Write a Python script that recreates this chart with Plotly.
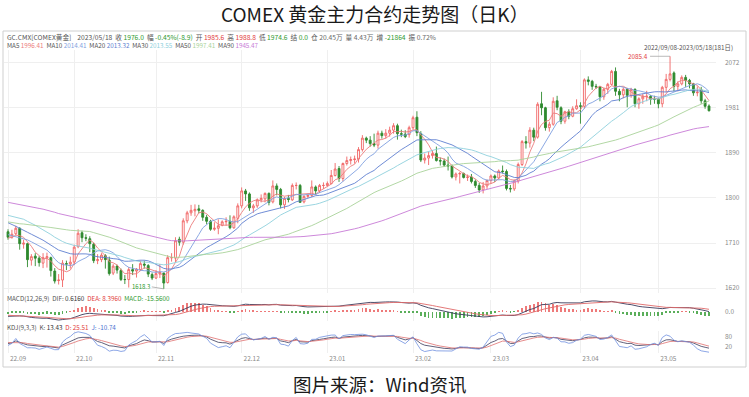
import numpy as np
import pandas as pd
import plotly.graph_objects as go
from plotly.subplots import make_subplots

# ---------------- data ----------------
# closes before the displayed window (2022-05-06 .. 2022-09-07), used only for MA / MACD warm-up
prior_close = [
    1882, 1858, 1841, 1853, 1824, 1808, 1814, 1818, 1815, 1841, 1842, 1853, 1866, 1846, 1851, 1853, 1857, 1848,
    1868, 1871, 1850, 1844, 1852, 1855, 1853, 1875, 1832, 1813, 1835, 1851, 1840, 1838, 1834, 1838, 1825, 1830,
    1824, 1821, 1818, 1807,
    1801, 1803, 1763, 1736, 1739, 1742, 1731, 1725, 1735, 1705, 1703, 1709, 1711, 1697, 1718, 1727, 1719, 1717,
    1735, 1750, 1781,
    1787, 1776, 1776, 1806, 1791, 1805, 1812, 1813, 1807, 1815, 1798, 1789, 1776, 1771, 1762, 1748, 1761, 1761,
    1771, 1750, 1749, 1736, 1726,
    1709, 1721, 1718, 1714, 1727,
]

dates = pd.bdate_range("2022-09-08", "2023-05-18").strftime("%Y-%m-%d").tolist()

open_ = [
    # 2022-09
    1733, 1722, 1729, 1740, 1708, 1709, 1676, 1684, 1680, 1670, 1680, 1681, 1654, 1635, 1636, 1669, 1668,
    # 2022-10
    1672, 1703, 1731, 1721, 1719, 1708, 1675, 1677, 1685, 1676, 1650, 1664, 1655, 1637, 1637, 1657, 1654, 1657,
    1668, 1665, 1647,
    # 2022-11
    1640, 1648, 1650, 1631, 1681, 1680, 1718, 1712, 1755, 1771, 1775, 1779, 1776, 1762, 1754, 1738, 1740, 1746,
    1753, 1754, 1741, 1760,
    # 2022-12
    1785, 1815, 1809, 1781, 1785, 1797, 1799, 1810, 1793, 1825, 1818, 1787, 1800, 1797, 1826, 1826, 1793, 1804,
    1806, 1823, 1815, 1826,
    # 2023-01
    1826, 1830, 1846, 1860, 1840, 1870, 1876, 1878, 1879, 1898, 1921, 1917, 1910, 1907, 1931, 1926, 1931, 1937,
    1946, 1930, 1929, 1928,
    # 2023-02
    1942, 1963, 1930, 1877, 1881, 1886, 1890, 1876, 1875, 1867, 1865, 1843, 1849, 1850, 1842, 1843, 1834, 1826,
    1817, 1825,
    # 2023-03
    1836, 1845, 1841, 1855, 1854, 1820, 1819, 1835, 1868, 1914, 1911, 1937, 1923, 1990, 1982, 1942, 1949, 1996,
    1982, 1955, 1974, 1965, 1980,
    # 2023-04
    1986, 1985, 2038, 2035, 2025, 2024, 2004, 2019, 2029, 2055, 2015, 2008, 2019, 2007, 2019, 1990, 2000, 2005,
    2005, 1999,
    # 2023-05
    1999, 1990, 2023, 2039, 2052, 2025, 2030, 2043, 2037, 2030, 2012, 2018, 1996, 1985.6,
]

high = [
    1738, 1737, 1745, 1742, 1717, 1711, 1688, 1690, 1684, 1690, 1691, 1683, 1660, 1648, 1676, 1675, 1683,
    1707, 1738, 1735, 1728, 1724, 1711, 1688, 1690, 1688, 1683, 1668, 1667, 1659, 1646, 1662, 1668, 1660, 1675,
    1675, 1668, 1651,
    1656, 1668, 1651, 1686, 1690, 1722, 1723, 1760, 1775, 1787, 1788, 1787, 1778, 1767, 1757, 1752, 1758, 1756,
    1762, 1766, 1766, 1790,
    1822, 1819, 1812, 1789, 1800, 1808, 1812, 1812, 1836, 1830, 1821, 1803, 1807, 1830, 1832, 1829, 1806, 1808,
    1836, 1826, 1829, 1832,
    1834, 1857, 1871, 1865, 1872, 1884, 1884, 1886, 1903, 1927, 1924, 1925, 1930, 1936, 1936, 1939, 1944, 1951,
    1950, 1938, 1937, 1946,
    1966, 1975, 1935, 1890, 1893, 1897, 1904, 1882, 1880, 1884, 1868, 1852, 1853, 1852, 1848, 1849, 1838, 1831,
    1833, 1838,
    1848, 1848, 1858, 1866, 1858, 1827, 1838, 1872, 1917, 1925, 1943, 1942, 1993, 2014, 1984, 1954, 2003, 2006,
    1985, 1976, 1979, 1985, 1999,
    1993, 2041, 2045, 2038, 2030, 2026, 2022, 2032, 2058, 2063, 2020, 2023, 2022, 2022, 2021, 2003, 2010, 2016,
    2008, 2006,
    2002, 2026, 2050, 2085.4, 2055, 2035, 2047, 2048, 2040, 2032, 2025, 2024, 2000, 1988.8,
]

low = [
    1717, 1719, 1726, 1697, 1699, 1662, 1665, 1664, 1663, 1660, 1661, 1643, 1629, 1627, 1622, 1656, 1659,
    1666, 1700, 1712, 1714, 1692, 1670, 1668, 1672, 1659, 1645, 1646, 1649, 1634, 1628, 1621, 1646, 1641, 1655,
    1659, 1642, 1636,
    1638, 1640, 1618.3, 1629, 1673, 1672, 1705, 1707, 1750, 1765, 1764, 1770, 1755, 1748, 1735, 1735, 1728, 1744,
    1745, 1738, 1739, 1750,
    1780, 1795, 1775, 1771, 1781, 1792, 1792, 1786, 1790, 1806, 1780, 1779, 1792, 1795, 1818, 1793, 1790, 1801,
    1803, 1807, 1811, 1819,
    1824, 1828, 1844, 1833, 1834, 1866, 1868, 1870, 1872, 1894, 1911, 1904, 1903, 1900, 1920, 1920, 1924, 1930,
    1918, 1923, 1921, 1922,
    1938, 1925, 1873, 1870, 1867, 1880, 1874, 1866, 1863, 1856, 1840, 1836, 1830, 1840, 1835, 1830, 1821, 1811,
    1810, 1819,
    1829, 1833, 1838, 1850, 1816, 1812, 1815, 1830, 1865, 1900, 1902, 1915, 1920, 1967, 1936, 1934, 1946, 1977,
    1949, 1950, 1959, 1963, 1978,
    1950, 1980, 2027, 2018, 2020, 1995, 1998, 2010, 2027, 2006, 1995, 2001, 1983, 2002, 1983, 1980, 1990, 1995,
    1988, 1990,
    1981, 1983, 2013, 2035, 2015, 2015, 2027, 2024, 2021, 2006, 2005, 1990, 1980, 1974.6,
]

close = [
    1722, 1728, 1740, 1709, 1710, 1677, 1683, 1680, 1671, 1681, 1683, 1655, 1634, 1636, 1670, 1668, 1672,
    1702, 1730, 1721, 1720, 1709, 1675, 1677, 1686, 1677, 1649, 1664, 1656, 1637, 1637, 1657, 1654, 1658, 1669,
    1666, 1648, 1640,
    1649, 1651, 1630, 1681, 1681, 1715, 1712, 1755, 1771, 1776, 1778, 1776, 1762, 1754, 1738, 1740, 1745, 1753,
    1754, 1741, 1763, 1785,
    1815, 1809, 1781, 1785, 1797, 1800, 1810, 1792, 1825, 1818, 1787, 1800, 1798, 1826, 1826, 1792, 1804, 1806,
    1823, 1815, 1826, 1826,
    1830, 1846, 1859, 1840, 1870, 1876, 1878, 1879, 1898, 1921, 1917, 1910, 1907, 1931, 1926, 1931, 1937, 1946,
    1930, 1929, 1924, 1942,
    1962, 1932, 1877, 1881, 1886, 1890, 1876, 1875, 1867, 1865, 1843, 1849, 1850, 1842, 1843, 1834, 1826, 1817,
    1825, 1836,
    1845, 1841, 1855, 1854, 1820, 1819, 1835, 1868, 1914, 1911, 1937, 1923, 1989, 1982, 1942, 1949, 1995, 1983,
    1955, 1974, 1965, 1980, 1986,
    1985, 2038, 2035, 2025, 2024, 2004, 2019, 2029, 2055, 2015, 2008, 2019, 2007, 2019, 1990, 2000, 2005, 2005,
    1999, 1999,
    1990, 2023, 2039, 2050, 2025, 2030, 2043, 2037, 2030, 2012, 2013, 1996, 1984.9, 1976.0,
]

ma_periods = [5, 10, 20, 30, 50, 90]
ma_colors = ["#ec7c7c", "#7f9fe0", "#5f7fd0", "#8fd0dc", "#a9d39a", "#c77ad6"]
ma_texts = ["1996.41", "2014.41", "2013.32", "2013.55", "1997.41", "1945.47"]

month_labels = ["22.09", "22.10", "22.11", "22.12", "23.01", "23.02", "23.03", "23.04", "23.05"]
y_ticks = [2072, 1981.6, 1891.2, 1800.8, 1710.4, 1620]
y_tick_text = ["2072", "1981", "1890", "1800", "1710", "1620"]

assert len(dates) == len(open_) == len(high) == len(low) == len(close), (
    len(dates), len(open_), len(high), len(low), len(close))

# ---------------- indicators ----------------
npre = len(prior_close)
allc = pd.Series(prior_close + close, dtype=float)
mas = {n: allc.rolling(n, min_periods=1).mean().iloc[npre:].values for n in ma_periods}
ema12 = allc.ewm(span=12, adjust=False).mean()
ema26 = allc.ewm(span=26, adjust=False).mean()
dif_all = ema12 - ema26
dea_all = dif_all.ewm(span=9, adjust=False).mean()
dif = dif_all.iloc[npre:].values
dea = dea_all.iloc[npre:].values
hist = 2 * (dif - dea)

hs, ls, cs = pd.Series(high, dtype=float), pd.Series(low, dtype=float), pd.Series(close, dtype=float)
llv = ls.rolling(9, min_periods=1).min()
hhv = hs.rolling(9, min_periods=1).max()
rsv = ((cs - llv) / (hhv - llv) * 100).values
K, D = [], []
k, d = 50.0, 50.0
for r in rsv:
    k = 2 / 3 * k + r / 3
    d = 2 / 3 * d + k / 3
    K.append(k)
    D.append(d)
K, D = np.array(K), np.array(D)
J = 3 * K - 2 * D

# ---------------- geometry ----------------
W, H = 749, 397
L, R, T, B = 4, 33, 50, 44
pw, ph = W - L - R, H - T - B


def px(x):
    return (x - L) / pw


def py(y):
    return (H - B - y) / ph


fig = make_subplots(rows=3, cols=1, shared_xaxes=True, vertical_spacing=0)

fig.add_trace(go.Candlestick(
    x=dates, open=open_, high=high, low=low, close=close,
    increasing=dict(line=dict(color="#f06464", width=0.9), fillcolor="#ffffff"),
    decreasing=dict(line=dict(color="#2f8a2f", width=0.9), fillcolor="#2f8a2f"),
    whiskerwidth=0, showlegend=False, hoverinfo="skip"), row=1, col=1)

for n, c in zip(ma_periods, ma_colors):
    fig.add_trace(go.Scatter(x=dates, y=mas[n], mode="lines", line=dict(color=c, width=0.9),
                             showlegend=False, hoverinfo="skip"), row=1, col=1)

fig.add_trace(go.Bar(x=dates, y=hist, marker=dict(color=["#ee7a7a" if v >= 0 else "#5aae5a" for v in hist],
                                                   line=dict(width=0)),
                     width=0.2, showlegend=False, hoverinfo="skip"), row=2, col=1)
fig.add_trace(go.Scatter(x=dates, y=dif, mode="lines", line=dict(color="#3a3a5a", width=0.9),
                         showlegend=False, hoverinfo="skip"), row=2, col=1)
fig.add_trace(go.Scatter(x=dates, y=dea, mode="lines", line=dict(color="#e06a6a", width=0.9),
                         showlegend=False, hoverinfo="skip"), row=2, col=1)

fig.add_trace(go.Scatter(x=dates, y=K, mode="lines", line=dict(color="#3a3a5a", width=0.8),
                         showlegend=False, hoverinfo="skip"), row=3, col=1)
fig.add_trace(go.Scatter(x=dates, y=D, mode="lines", line=dict(color="#e07070", width=0.8),
                         showlegend=False, hoverinfo="skip"), row=3, col=1)
fig.add_trace(go.Scatter(x=dates, y=J, mode="lines", line=dict(color="#6f8fe0", width=0.8),
                         showlegend=False, hoverinfo="skip"), row=3, col=1)

# month ticks
month_ticks = []
seen = set()
for dstr in dates:
    m = dstr[:7]
    if m not in seen:
        seen.add(m)
        month_ticks.append(dstr)

x_range = [-1.03, len(dates) - 1 + 7 / 3.894]
tickfont = dict(family="Noto Sans CJK SC", size=6.5, color="#8a8a8a")
for i in (1, 2, 3):
    fig.update_xaxes(row=i, col=1, type="category", range=x_range, tickvals=month_ticks,
                     ticktext=month_labels, showgrid=True, gridcolor="#efefef", gridwidth=1,
                     showline=False, zeroline=False, ticks="", rangeslider_visible=False,
                     showticklabels=(i == 3), tickfont=tickfont, ticklabelshift=10)

fig.update_yaxes(row=1, col=1, side="right", range=[1610, 2098], tickvals=y_ticks, ticktext=y_tick_text,
                 showgrid=True, gridcolor="#efefef", zeroline=False, tickfont=tickfont, ticklabelstandoff=8)
mlo = min(hist.min(), dif.min(), dea.min())
mhi = max(hist.max(), dif.max(), dea.max())
pad = (mhi - mlo) * 0.05
fig.update_yaxes(row=2, col=1, side="right", range=[mlo - pad, mhi + pad], tickvals=[0], ticktext=["0.0"],
                 showgrid=False, zeroline=False, tickfont=tickfont, ticklabelstandoff=8)
fig.update_yaxes(row=3, col=1, side="right", range=[min(J.min(), -5) - 5, max(J.max(), 100) + 5],
                 tickvals=[80, 20], ticktext=["80", "20"],
                 showgrid=False, zeroline=False, tickfont=tickfont, ticklabelstandoff=8)

fig.update_layout(
    yaxis=dict(domain=[py(293), py(50)]),
    yaxis2=dict(domain=[py(321), py(300)]),
    yaxis3=dict(domain=[py(353), py(331)]),
)

# ---------------- texts ----------------
RED, GRN, GRY = "#e23c3c", "#2f9a2f", "#6a6a6a"
sp = "\u00a0\u00a0"


def c(t, col):
    return f"<span style='color:{col}'>{t}</span>"


info = (f"GC.CMX[COMEX黄金]{sp}{sp}2023/05/18{sp}收 {c('1976.0', GRN)}{sp}幅 {c('-0.45%(-8.9)', GRN)}{sp}"
        f"开 {c('1985.6', RED)}{sp}高 {c('1988.8', RED)}{sp}低 {c('1974.6', GRN)}{sp}结 {c('0.0', GRN)}{sp}"
        f"仓 {c('20.45万', GRY)}{sp}量 {c('4.43万', GRY)}{sp}增 {c('-21864', GRN)}{sp}振 {c('0.72%', GRY)}")
ma_line = sp.join(f"MA{n} {c(v, col)}" for n, v, col in zip(ma_periods, ma_texts, ma_colors))
macd_line = f"MACD(12,26,9){sp}DIF: {c('0.6160', '#333')}{sp}{c('DEA: 8.3960', RED)}{sp}{c('MACD: -15.5600', GRN)}"
kdj_line = f"KDJ(9,3,3){sp}K: {c('13.43', '#333')}{sp}{c('D: 25.51', RED)}{sp}{c('J: -10.74', '#4a6fd0')}"

small = dict(family="Noto Sans CJK SC", size=6.3, color="#555")
anns = [
    dict(x=px(375), y=py(14), text="COMEX 黄金主力合约走势图（日K）",
         xanchor="center", font=dict(family="Noto Sans CJK SC", size=19, color="#1a1a1a")),
    dict(x=px(5), y=py(37.5), text=info, xanchor="left",
         font=dict(family="Noto Sans CJK SC", size=6.7, color="#555")),
    dict(x=px(5), y=py(45.5), text=ma_line, xanchor="left", font=small),
    dict(x=px(642), y=py(47), text="2022/09/08-2023/05/18(181日)", xanchor="left", font=small),
    dict(x=px(5), y=py(298.5), text=macd_line, xanchor="left", font=small),
    dict(x=px(5), y=py(327), text=kdj_line, xanchor="left", font=small),
    dict(x=px(380), y=py(384), text="图片来源：Wind资讯", xanchor="center",
         font=dict(family="Noto Sans CJK SC", size=18.5, color="#1a1a1a")),
]
for a in anns:
    a.setdefault("xref", "paper")
    a.setdefault("yref", "paper")
    a.setdefault("yanchor", "middle")
    a.setdefault("showarrow", False)
    fig.add_annotation(**a)

imax = int(np.argmax(high))
imin = int(np.argmin(low))
fig.add_annotation(x=dates[imax], y=high[imax], xref="x", yref="y", text=f"{high[imax]:.1f}",
                   showarrow=True, arrowhead=0, arrowwidth=0.7, arrowcolor="#999", ax=-20, ay=0,
                   xanchor="right", font=dict(family="Noto Sans CJK SC", size=6.3, color=RED))
fig.add_annotation(x=dates[imin], y=low[imin], xref="x", yref="y", text=f"{low[imin]:.1f}",
                   showarrow=True, arrowhead=0, arrowwidth=0.7, arrowcolor="#999", ax=-12, ay=-2,
                   xanchor="right", font=dict(family="Noto Sans CJK SC", size=6, color=GRN))

# outer chart box
fig.add_shape(type="rect", xref="paper", yref="paper", x0=px(3), x1=px(746), y0=py(367), y1=py(31),
              line=dict(color="#cfcfcf", width=1), fillcolor="rgba(0,0,0,0)", layer="below")

fig.update_layout(width=W, height=H, margin=dict(l=L, r=R, t=T, b=B), paper_bgcolor="white",
                  plot_bgcolor="white", showlegend=False, bargap=0,
                  font=dict(family="Noto Sans CJK SC"))
fig.write_html("out.html", config={"displayModeBar": False},
               post_script="document.body.style.margin='0';document.body.style.overflow='hidden';")
